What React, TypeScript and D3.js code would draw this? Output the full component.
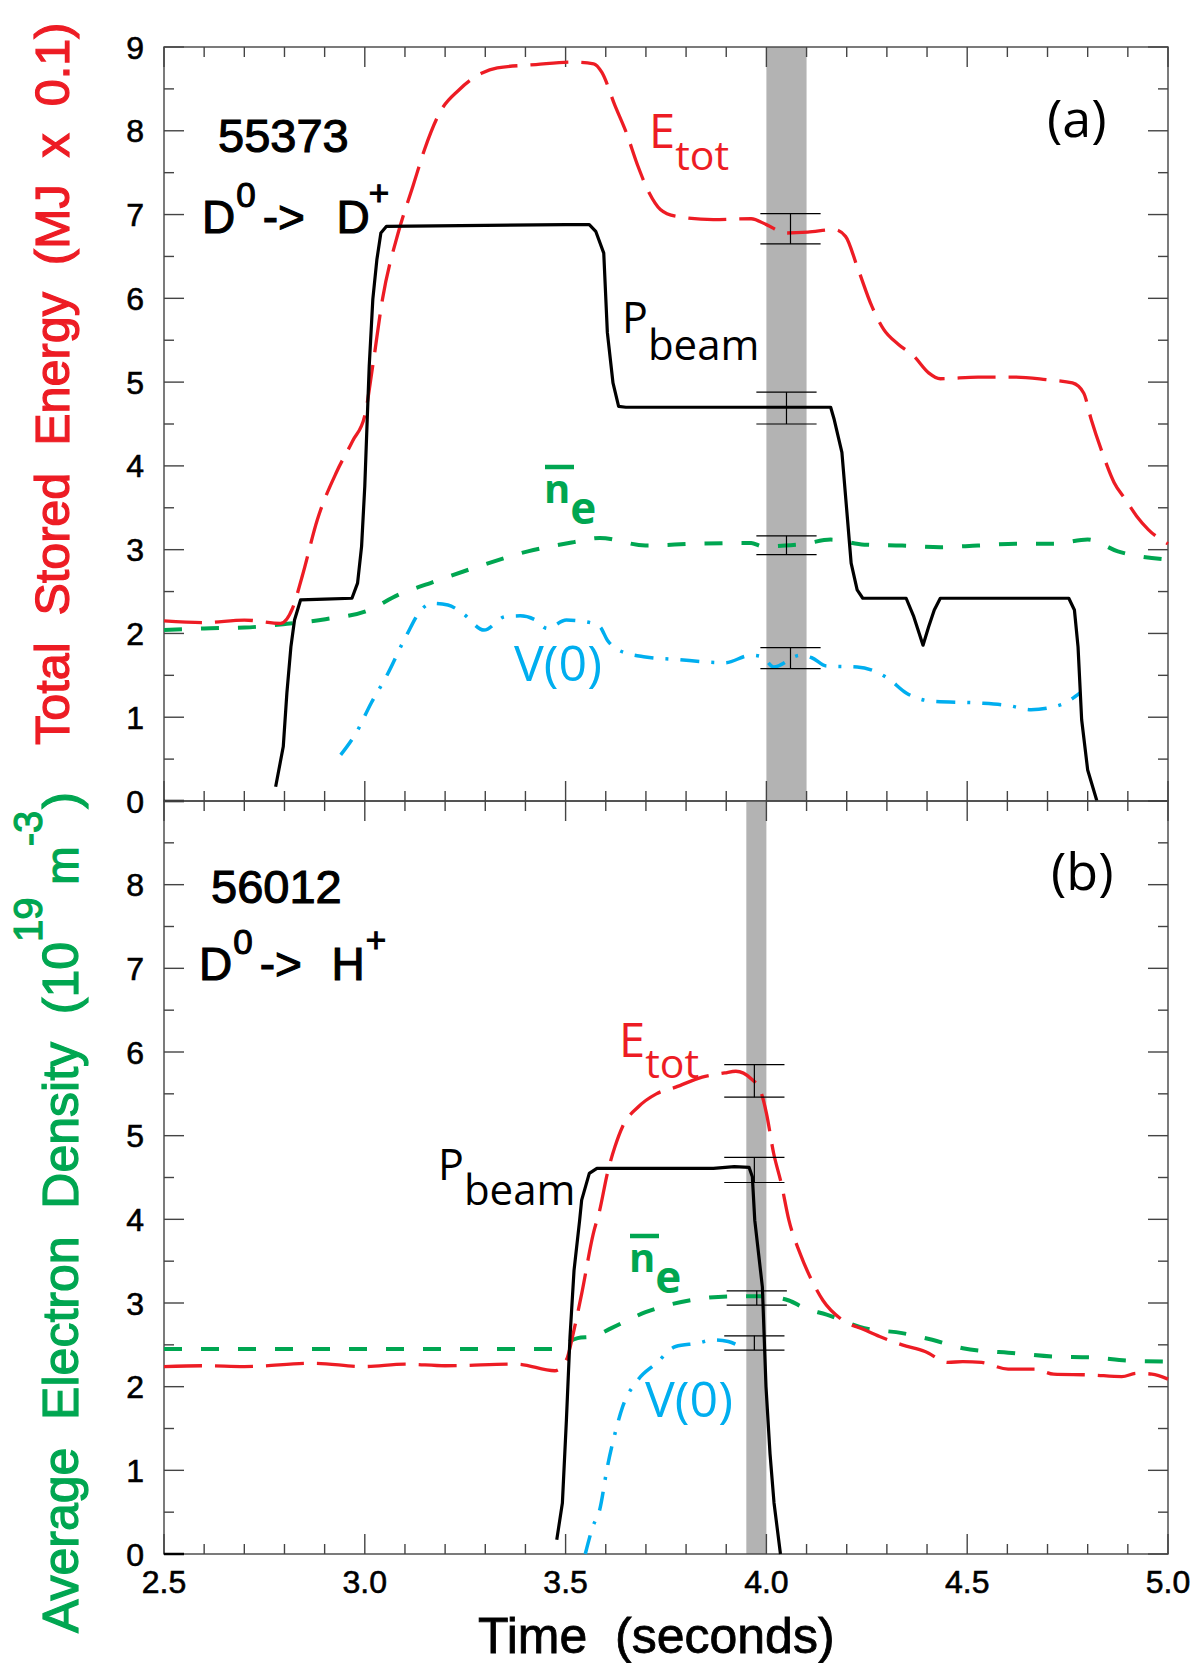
import * as d3 from "d3";

// time axis and tick marks
const TIME_LABELS = [2.5, 3.0, 3.5, 4.0, 4.5, 5.0];
const Y_LABELS_A = [0, 1, 2, 3, 4, 5, 6, 7, 8, 9];
const Y_LABELS_B = [0, 1, 2, 3, 4, 5, 6, 7, 8];

// shot 55373 (a)
const etotA: [number, number][] = [
  [2.5, 2.15], [2.6, 2.13], [2.7, 2.16], [2.79, 2.12], [2.82, 2.3], [2.844, 2.68], [2.882, 3.36],
  [2.93, 3.93], [2.97, 4.3], [3.0, 4.6], [3.02, 5.2], [3.044, 5.99], [3.083, 6.78], [3.12, 7.34],
  [3.149, 7.78], [3.187, 8.22], [3.235, 8.49], [3.292, 8.69], [3.33, 8.75], [3.426, 8.79],
  [3.52, 8.82], [3.57, 8.8], [3.59, 8.7], [3.623, 8.3], [3.651, 7.98], [3.68, 7.58], [3.708, 7.26],
  [3.736, 7.06], [3.774, 6.98], [3.868, 6.94], [3.962, 6.95], [4.0, 6.88], [4.047, 6.78],
  [4.103, 6.79], [4.169, 6.82], [4.197, 6.74], [4.226, 6.38], [4.263, 5.9], [4.292, 5.63],
  [4.329, 5.45], [4.367, 5.31], [4.404, 5.11], [4.433, 5.04], [4.527, 5.06], [4.621, 5.06],
  [4.696, 5.03], [4.762, 4.99], [4.79, 4.87], [4.809, 4.55], [4.837, 4.15], [4.866, 3.8],
  [4.894, 3.6], [4.922, 3.4], [4.951, 3.24], [5.0, 3.07],
];
const pbeamA: [number, number][] = [
  [2.778, 0.17], [2.797, 0.65], [2.806, 1.29], [2.816, 1.84], [2.825, 2.16], [2.84, 2.4],
  [2.9, 2.41], [2.968, 2.42], [2.982, 2.6], [2.992, 3.04], [3.0, 3.76], [3.006, 4.55],
  [3.011, 5.19], [3.02, 5.99], [3.03, 6.46], [3.04, 6.78], [3.054, 6.86], [3.3, 6.87],
  [3.5, 6.88], [3.559, 6.88], [3.575, 6.8], [3.595, 6.54], [3.604, 5.59], [3.618, 4.99],
  [3.632, 4.71], [3.65, 4.7], [4.16, 4.7], [4.169, 4.55], [4.188, 4.16], [4.202, 3.36],
  [4.211, 2.84], [4.226, 2.52], [4.24, 2.42], [4.348, 2.42], [4.367, 2.2], [4.39, 1.86],
  [4.404, 2.08], [4.418, 2.28], [4.433, 2.42], [4.753, 2.42], [4.767, 2.28], [4.776, 1.84],
  [4.785, 0.97], [4.8, 0.37], [4.823, 0.0],
];
const neA: [number, number][] = [
  [2.5, 2.04], [2.6, 2.06], [2.7, 2.07], [2.797, 2.11], [2.902, 2.17], [3.006, 2.27], [3.083, 2.46],
  [3.168, 2.61], [3.283, 2.8], [3.406, 2.98], [3.521, 3.09], [3.585, 3.14], [3.699, 3.05],
  [3.82, 3.07], [3.962, 3.08], [3.99, 3.04], [4.047, 3.05], [4.094, 3.07], [4.16, 3.12],
  [4.244, 3.06], [4.338, 3.05], [4.433, 3.03], [4.527, 3.05], [4.621, 3.07], [4.715, 3.07],
  [4.8, 3.12], [4.875, 2.98], [5.0, 2.88],
];
const v0A: [number, number][] = [
  [2.94, 0.55], [2.978, 0.81], [3.016, 1.17], [3.054, 1.49], [3.102, 1.96], [3.14, 2.28],
  [3.168, 2.36], [3.207, 2.34], [3.244, 2.24], [3.297, 2.04], [3.349, 2.2], [3.387, 2.21],
  [3.425, 2.16], [3.454, 2.06], [3.502, 2.16], [3.549, 2.14], [3.585, 2.08], [3.604, 1.92],
  [3.632, 1.8], [3.699, 1.72], [3.774, 1.69], [3.896, 1.65], [3.962, 1.74], [3.99, 1.72],
  [4.018, 1.6], [4.084, 1.74], [4.113, 1.71], [4.15, 1.61], [4.226, 1.6], [4.301, 1.47],
  [4.348, 1.29], [4.414, 1.19], [4.527, 1.17], [4.602, 1.14], [4.659, 1.09], [4.734, 1.15],
  [4.781, 1.29],
];
const bandA: [number, number] = [4.0, 4.1];
const errA = [
  { t: 4.06, lo: 6.65, hi: 7.01 },
  { t: 4.05, lo: 4.5, hi: 4.88 },
  { t: 4.05, lo: 2.94, hi: 3.165 },
  { t: 4.06, lo: 1.58, hi: 1.83 },
];

// shot 56012 (b)
const etotB: [number, number][] = [
  [2.5, 2.24], [2.6, 2.25], [2.7, 2.24], [2.873, 2.28], [2.997, 2.24], [3.1, 2.27], [3.2, 2.25],
  [3.378, 2.27], [3.473, 2.19], [3.502, 2.32], [3.521, 2.68], [3.54, 3.11], [3.569, 3.83],
  [3.585, 4.11], [3.604, 4.55], [3.623, 4.87], [3.642, 5.11], [3.68, 5.34], [3.726, 5.5],
  [3.774, 5.58], [3.84, 5.7], [3.896, 5.75], [3.924, 5.77], [3.962, 5.68], [3.985, 5.54],
  [4.0, 5.27], [4.018, 4.79], [4.037, 4.43], [4.056, 3.99], [4.084, 3.59], [4.113, 3.27],
  [4.141, 3.03], [4.188, 2.8], [4.244, 2.68], [4.282, 2.6], [4.338, 2.5], [4.395, 2.42],
  [4.452, 2.29], [4.489, 2.3], [4.536, 2.29], [4.602, 2.21], [4.668, 2.21], [4.715, 2.15],
  [4.809, 2.14], [4.885, 2.12], [4.922, 2.16], [4.96, 2.15], [5.0, 2.09],
];
const pbeamB: [number, number][] = [
  [3.478, 0.17], [3.492, 0.61], [3.502, 1.6], [3.511, 2.6], [3.521, 3.39], [3.535, 3.99],
  [3.54, 4.23], [3.559, 4.55], [3.578, 4.61], [3.661, 4.61], [3.868, 4.61], [3.92, 4.63],
  [3.957, 4.62], [3.965, 4.51], [3.971, 3.99], [3.99, 3.19], [3.999, 2.0], [4.009, 1.2],
  [4.019, 0.61], [4.035, 0.0],
];
const neB: [number, number][] = [
  [2.5, 2.45], [3.0, 2.45], [3.473, 2.45], [3.502, 2.52], [3.53, 2.58], [3.568, 2.6], [3.614, 2.7],
  [3.699, 2.89], [3.82, 3.04], [3.915, 3.08], [3.99, 3.08], [4.056, 3.03], [4.094, 2.94],
  [4.15, 2.86], [4.244, 2.7], [4.338, 2.64], [4.413, 2.56], [4.489, 2.46], [4.62, 2.4],
  [4.715, 2.36], [4.809, 2.35], [4.903, 2.31], [5.0, 2.3],
];
const v0B: [number, number][] = [
  [3.549, 0.0], [3.568, 0.33], [3.585, 0.53], [3.604, 1.04], [3.623, 1.44], [3.642, 1.76],
  [3.68, 2.08], [3.726, 2.28], [3.774, 2.48], [3.83, 2.52], [3.868, 2.56], [3.905, 2.54],
  [3.934, 2.48],
];
const bandB: [number, number] = [3.95, 4.0];
const errB = [
  { t: 3.97, lo: 5.46, hi: 5.85 },
  { t: 3.97, lo: 4.44, hi: 4.74 },
  { t: 3.976, lo: 2.975, hi: 3.146 },
  { t: 3.97, lo: 2.437, hi: 2.608 },
];

const RED = "#ed1c24";
const GREEN = "#00a651";
const CYAN = "#00aeef";
const BAND = "#b3b3b3";
const AXIS = "#444";
const NUM_FONT = "'Liberation Sans', Arial, sans-serif";
const LBL_FONT = "'Open Sans', 'Noto Sans', sans-serif";

const W = 1193;
const H = 1663;
const LEFT = 164;
const RIGHT = 1168;
const TOP = 47;
const MID = 801;
const BOTTOM = 1554;

const x = d3.scaleLinear().domain([2.5, 5]).range([LEFT, RIGHT]);
const yA = d3.scaleLinear().domain([0, 9]).range([MID, TOP]);
const yB = d3.scaleLinear().domain([0, 9]).range([BOTTOM, MID]);

const minorT = d3.range(0, 26).map((i) => 2.5 + i * 0.1);
const minorV = d3.range(0, 19).map((i) => i * 0.5);

function Frame({ y }: { y: d3.ScaleLinear<number, number> }) {
  const [y0, y1] = y.range();
  return (
    <g stroke={AXIS} strokeWidth={1.4} fill="none">
      <rect x={LEFT} y={y1} width={RIGHT - LEFT} height={y0 - y1} />
      {minorT.map((t, i) => {
        const len = i % 5 === 0 ? 20 : 10;
        return (
          <g key={"t" + i}>
            <line x1={x(t)} x2={x(t)} y1={y0} y2={y0 - len} />
            <line x1={x(t)} x2={x(t)} y1={y1} y2={y1 + len} />
          </g>
        );
      })}
      {minorV.map((v, i) => {
        const len = i % 2 === 0 ? 20 : 10;
        return (
          <g key={"v" + i}>
            <line x1={LEFT} x2={LEFT + len} y1={y(v)} y2={y(v)} />
            <line x1={RIGHT} x2={RIGHT - len} y1={y(v)} y2={y(v)} />
          </g>
        );
      })}
      <line x1={LEFT} x2={LEFT + 20} y1={y0} y2={y0} stroke="#000" strokeWidth={2.5} />
    </g>
  );
}

function Panel({
  y, etot, pbeam, ne, v0, band, errs, ticks,
}: {
  y: d3.ScaleLinear<number, number>;
  etot: [number, number][];
  pbeam: [number, number][];
  ne: [number, number][];
  v0: [number, number][];
  band: [number, number];
  errs: { t: number; lo: number; hi: number }[];
  ticks: number[];
}) {
  const smooth = d3.line<[number, number]>().x((d) => x(d[0])).y((d) => y(d[1])).curve(d3.curveMonotoneX);
  const sharp = d3.line<[number, number]>().x((d) => x(d[0])).y((d) => y(d[1]));
  const [y0, y1] = y.range();
  return (
    <g>
      <rect x={x(band[0])} y={y1} width={x(band[1]) - x(band[0])} height={y0 - y1} fill={BAND} />
      <Frame y={y} />
      {ticks.map((v) => (
        <text key={v} x={144} y={y(v)} dy="0.36em" textAnchor="end" fontSize={32}
          fontFamily={NUM_FONT} stroke="#000" strokeWidth={0.6}>
          {v}
        </text>
      ))}
      <path d={smooth(ne) ?? ""} fill="none" stroke={GREEN} strokeWidth={4} strokeDasharray="18,19" />
      <path d={smooth(v0) ?? ""} fill="none" stroke={CYAN} strokeWidth={3.5} strokeDasharray="19,12,3,12" />
      <path d={smooth(etot) ?? ""} fill="none" stroke={RED} strokeWidth={3.3} strokeDasharray="38,13" />
      <path d={sharp(pbeam) ?? ""} fill="none" stroke="#000" strokeWidth={3.2} strokeLinejoin="round" />
      <g stroke="#000" strokeWidth={1.2}>
        {errs.map((e, i) => (
          <g key={i}>
            <line x1={x(e.t)} x2={x(e.t)} y1={y(e.lo)} y2={y(e.hi)} />
            <line x1={x(e.t - 0.075)} x2={x(e.t + 0.075)} y1={y(e.lo)} y2={y(e.lo)} />
            <line x1={x(e.t - 0.075)} x2={x(e.t + 0.075)} y1={y(e.hi)} y2={y(e.hi)} />
          </g>
        ))}
      </g>
    </g>
  );
}

function NeLabel({ px, py }: { px: number; py: number }) {
  return (
    <g fill={GREEN} fontFamily={LBL_FONT} fontWeight="bold">
      <line x1={px} x2={px + 29} y1={py - 36} y2={py - 36} stroke={GREEN} strokeWidth={4.5} />
      <text x={px - 1} y={py} fontSize={40}>
        n<tspan dy={21} fontSize={44}>e</tspan>
      </text>
    </g>
  );
}

function Sub({ px, py, base, sub, size, subSize, dx, dy, fill }: {
  px: number; py: number; base: string; sub: string; size: number; subSize: number;
  dx: number; dy: number; fill: string;
}) {
  return (
    <text x={px} y={py} fontSize={size} fill={fill} fontFamily={LBL_FONT}>
      {base}
      <tspan dx={dx} dy={dy} fontSize={subSize}>{sub}</tspan>
    </text>
  );
}

function Reaction({ px, py, to, toDx, plusDx }: { px: number; py: number; to: string; toDx: number; plusDx: number }) {
  // D^0 -> X^+ , one text run with raised tspans
  return (
    <text x={px} y={py} fontSize={46} fontFamily={NUM_FONT} stroke="#000" strokeWidth={1.1}
      style={{ whiteSpace: "pre" }}>
      D
      <tspan dx={1} dy={-26} fontSize={35}>0</tspan>
      <tspan dx={7} dy={26}>-&gt;</tspan>
      <tspan dx={toDx}>{"  " + to}</tspan>
      <tspan dx={plusDx} dy={-28} fontSize={35}>+</tspan>
    </text>
  );
}

export default function App() {
  return (
    <svg width={W} height={H} style={{ position: "absolute", left: 0, top: 0, background: "#fff" }}>
      <Panel y={yA} etot={etotA} pbeam={pbeamA} ne={neA} v0={v0A} band={bandA} errs={errA} ticks={Y_LABELS_A} />
      <Panel y={yB} etot={etotB} pbeam={pbeamB} ne={neB} v0={v0B} band={bandB} errs={errB} ticks={Y_LABELS_B} />

      {TIME_LABELS.map((t) => (
        <text key={t} x={x(t)} y={1593} textAnchor="middle" fontSize={32} fontFamily={NUM_FONT}
          stroke="#000" strokeWidth={0.6}>
          {t.toFixed(1)}
        </text>
      ))}
      <text x={478} y={1653} fontSize={50} fontFamily={NUM_FONT} stroke="#000" strokeWidth={0.8}
        style={{ whiteSpace: "pre" }}>
        {"Time  (seconds)"}
      </text>

      {/* y axis titles */}
      <text transform="translate(69,745) rotate(-90)" fontSize={48.5} fill={RED} stroke={RED} strokeWidth={1.2}
        fontFamily={NUM_FONT} style={{ whiteSpace: "pre" }}>
        {"Total  Stored  Energy  (MJ  x  0.1)"}
      </text>
      <text transform="translate(78,1633) rotate(-90)" fontSize={50} fill={GREEN} stroke={GREEN} strokeWidth={1.2}
        fontFamily={NUM_FONT} style={{ whiteSpace: "pre" }}>
        {"Average  Electron  Density  (10"}
        <tspan fontSize={40} dy={-36}>19</tspan>
        <tspan dy={36} fontSize={46}>{" m"}</tspan>
        <tspan fontSize={40} dy={-36}>-3</tspan>
        <tspan dy={36} dx={2}>)</tspan>
      </text>

      {/* shot numbers and reactions */}
      <g fontFamily={NUM_FONT} fontSize={47} stroke="#000" strokeWidth={1.1}>
        <text x={218} y={152}>55373</text>
        <text x={211} y={903}>56012</text>
      </g>
      <Reaction px={202} py={233} to="D" toDx={6} plusDx={-1} />
      <Reaction px={199} py={980} to="H" toDx={4} plusDx={1} />

      <g fontFamily={LBL_FONT}>
        <text x={1047} y={137} fontSize={52}>(a)</text>
        <text x={1051} y={890} fontSize={52}>(b)</text>
        <text x={514} y={681} fontSize={50} fill={CYAN}>V(0)</text>
        <text x={645} y={1417} fontSize={50} fill={CYAN}>V(0)</text>
      </g>
      <Sub px={649} py={148} base="E" sub="tot" size={47} subSize={41} dx={0} dy={22} fill={RED} />
      <Sub px={619} py={1057} base="E" sub="tot" size={47} subSize={41} dx={0} dy={21} fill={RED} />
      <Sub px={622} py={333} base="P" sub="beam" size={43} subSize={42} dx={0} dy={27} fill="#000" />
      <Sub px={438} py={1180} base="P" sub="beam" size={43} subSize={42} dx={0} dy={25} fill="#000" />
      <NeLabel px={545} py={503} />
      <NeLabel px={630} py={1272} />
    </svg>
  );
}
